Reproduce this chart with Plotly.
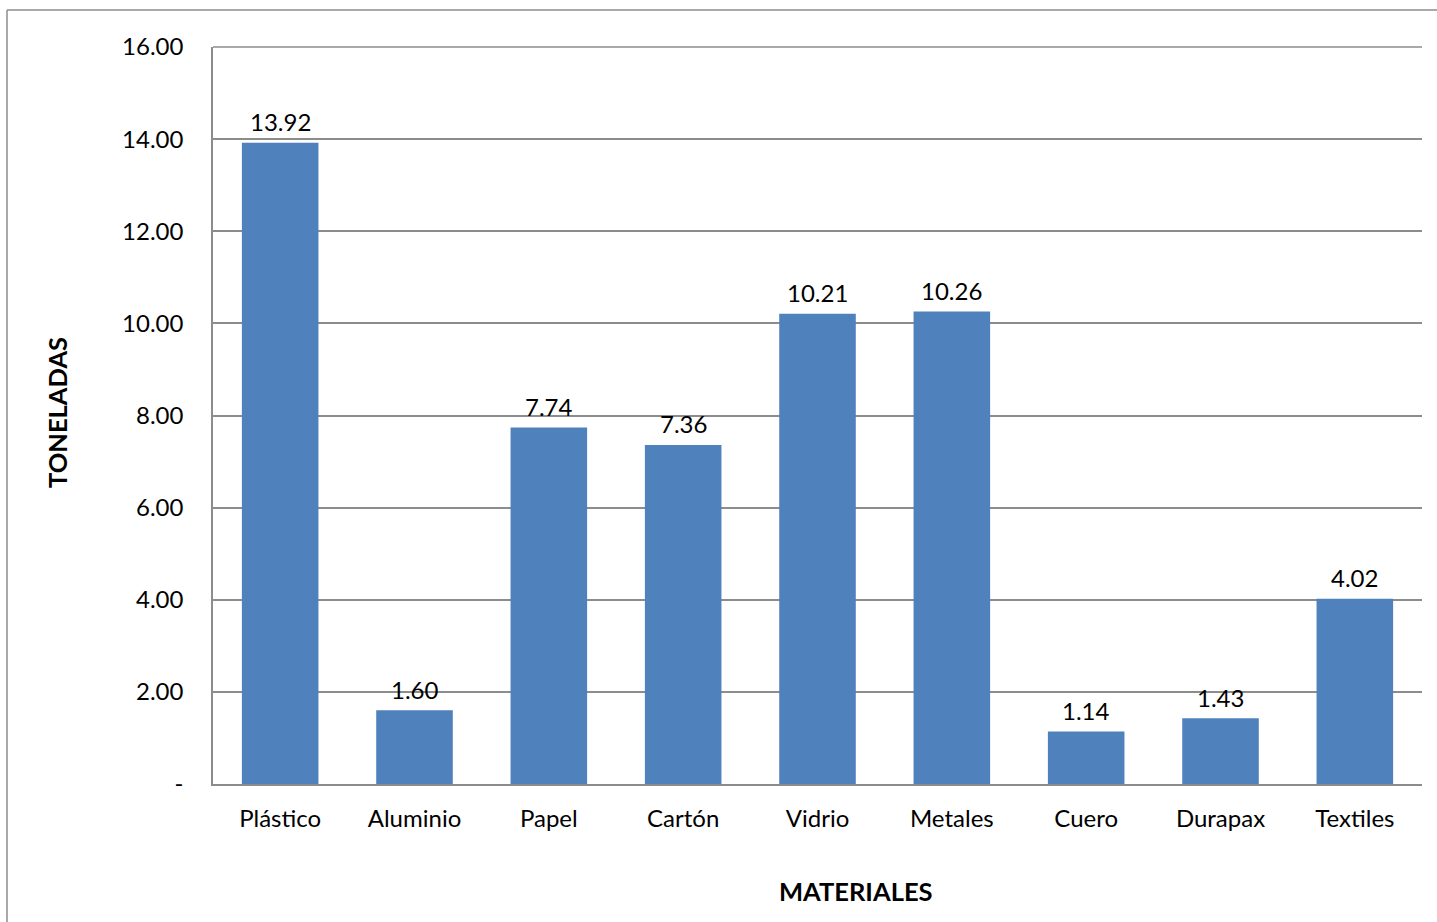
import plotly.graph_objects as go

# Toneladas por material reciclable
materiales = ["Plástico", "Aluminio", "Papel", "Cartón", "Vidrio", "Metales", "Cuero", "Durapax", "Textiles"]
toneladas = [13.92, 1.60, 7.74, 7.36, 10.21, 10.26, 1.14, 1.43, 4.02]

y_ticks = [0, 2, 4, 6, 8, 10, 12, 14, 16]
y_tick_text = ["-", "2.00", "4.00", "6.00", "8.00", "10.00", "12.00", "14.00", "16.00"]

FONT = "Lato"
GRID = "#8c8c8c"
TXT = 24

fig = go.Figure(
    go.Bar(
        x=materiales,
        y=toneladas,
        marker=dict(color="#4F81BD", line=dict(width=0)),
        hoverinfo="x+y",
    )
)

# value labels just above each bar
labels = [
    dict(
        x=m, y=v, xref="x", yref="y",
        text=f"{v:.2f}",
        xanchor="center", yanchor="middle",
        yshift=21,
        showarrow=False,
        font=dict(family=FONT, size=TXT, color="#000000"),
    )
    for m, v in zip(materiales, toneladas)
]

titles = [
    dict(
        text="<b>MATERIALES</b>",
        xref="paper", yref="paper",
        x=(856 - 213) / 1209, y=(784 - 891) / 737,
        xanchor="center", yanchor="middle",
        showarrow=False,
        font=dict(family=FONT, size=25.5, color="#000000"),
    ),
    dict(
        text="<b>TONELADAS</b>",
        xref="paper", yref="paper",
        x=(57 - 213) / 1209, y=(784 - 413) / 737,
        xanchor="center", yanchor="middle",
        textangle=-90,
        showarrow=False,
        font=dict(family=FONT, size=25.5, color="#000000"),
    ),
]

fig.update_layout(
    width=1437,
    height=922,
    margin=dict(l=213, r=15, t=47, b=138),
    paper_bgcolor="white",
    plot_bgcolor="white",
    bargap=0.43,
    showlegend=False,
    font=dict(family=FONT, size=TXT, color="#000000"),
    xaxis=dict(
        showgrid=False,
        showline=True,
        linecolor=GRID,
        linewidth=1.5,
        ticks="",
        tickfont=dict(family=FONT, size=TXT),
        ticklabelstandoff=12,
    ),
    yaxis=dict(
        range=[0, 16],
        tickvals=y_ticks,
        ticktext=y_tick_text,
        showgrid=True,
        gridcolor=GRID,
        gridwidth=1.5,
        showline=True,
        linecolor=GRID,
        linewidth=1.5,
        zeroline=False,
        ticks="",
        tickfont=dict(family=FONT, size=TXT),
        ticklabelstandoff=23,
    ),
    annotations=labels + titles,
    shapes=[
        # top gridline of the plot area
        dict(type="line", xref="x domain", yref="y domain",
             x0=0, x1=1, y0=1, y1=1,
             line=dict(color=GRID, width=1.5)),
        # outer chart frame (top and left edges)
        dict(type="line", xref="paper", yref="paper",
             x0=(7 - 213) / 1209, x1=(1440 - 213) / 1209,
             y0=(784 - 10) / 737, y1=(784 - 10) / 737,
             line=dict(color=GRID, width=1.5)),
        dict(type="line", xref="paper", yref="paper",
             x0=(7 - 213) / 1209, x1=(7 - 213) / 1209,
             y0=(784 - 10) / 737, y1=(784 - 925) / 737,
             line=dict(color=GRID, width=1.5)),
    ],
)

fig.write_html("out.html")
